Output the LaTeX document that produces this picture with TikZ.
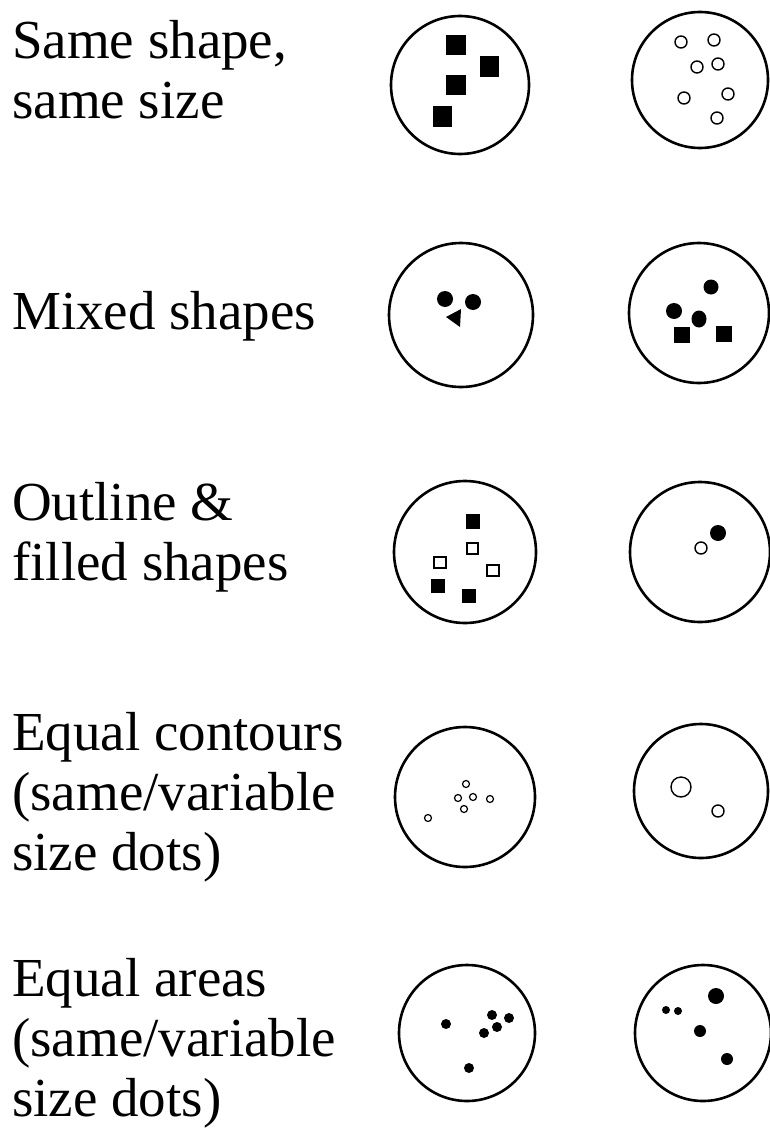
\documentclass[tikz,border=0pt]{standalone}
\usepackage{fontspec}
\setmainfont{Liberation Serif}
\begin{document}
\begin{tikzpicture}[x=1pt,y=-1pt,
  ring/.style={draw=black, line width=2.6pt},
  lbl/.style={anchor=west, align=left, inner sep=0pt, font=\fontsize{55}{60}\selectfont},
  fdot/.style={fill=black},
  odot/.style={draw=black, line width=1.4pt, fill=white},
]
\useasboundingbox[fill=white] (0,0) rectangle (770,1132);

% row labels
\node[lbl] (t1) at (12,70)   {Same shape,\\same size};
\node[lbl] (t2) at (12,316)  {Mixed shapes};
\node[lbl] (t3) at (12,537)  {Outline \&\\filled shapes};
\node[lbl] (t4) at (12,797)  {Equal contours\\(same/variable\\size dots)};
\node[lbl] (t5) at (12,1043) {Equal areas\\(same/variable\\size dots)};

% row 1: same shape, same size
\draw[ring] (460,85) circle (69);
\fill (446,35) rectangle ++(20,20);
\fill (480,56) rectangle ++(19,21);
\fill (446,75) rectangle ++(20,20);
\fill (433,106) rectangle ++(19,21);

\draw[ring] (700,80) circle (68);
\foreach \p in {(681,42),(714,40),(697,67),(718,64),(684,98),(728,94),(717,118)}
  \draw[odot] \p circle (6);

% row 2: mixed shapes
\draw[ring] (461,315) circle (72);
\fill (445,299) circle (8);
\fill (473,302) circle (8);
\fill (446,317) -- (461,309) -- (460,327) -- cycle;

\draw[ring] (699,313) circle (70);
\fill (711,287) circle (7.5);
\fill (674,311) circle (8);
\fill (699,319) ellipse (7.5 and 8.5);
\fill (674,327) rectangle ++(16,16);
\fill (716,326) rectangle ++(16,16);

% row 3: outline and filled shapes
\draw[ring] (465,552) circle (71);
\fill (466,514) rectangle ++(14,15);
\draw[odot] (467,543) rectangle ++(11,11);
\draw[odot] (434,557) rectangle ++(12,11);
\draw[odot] (487,565) rectangle ++(12,11);
\fill (431,579) rectangle ++(14,14);
\fill (462,589) rectangle ++(14,14);

\draw[ring] (700,552) circle (70);
\fill (718,533) circle (8);
\draw[odot] (701,548) circle (6);

% row 4: equal contours
\draw[ring] (465,797) circle (70);
\foreach \p in {(466,784),(458,798),(473,797),(490,799),(464,809),(428,818)}
  \draw[odot, line width=1.2pt] \p circle (3.5);

\draw[ring] (701,791) circle (67);
\draw[odot] (681,787) circle (10);
\draw[odot] (718,811) circle (6);

% row 5: equal areas
\draw[ring] (467,1033) circle (68);
\foreach \p in {(446,1024),(492,1015),(509,1018),(497,1027),(484,1033),(469,1068)}
  \fill \p circle (5);

\draw[ring] (703,1033) circle (68);
\fill (716,996) circle (8);
\fill (666,1010) circle (4);
\fill (678,1011) circle (4);
\fill (700,1031) circle (6);
\fill (727,1059) circle (6);
\end{tikzpicture}
\end{document}
